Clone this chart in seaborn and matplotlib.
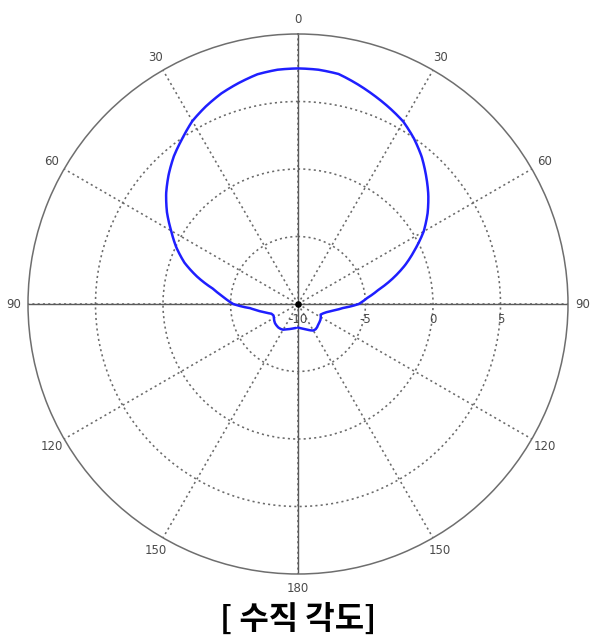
import numpy as np
import pandas as pd
import matplotlib
matplotlib.use("Agg")
import matplotlib.pyplot as plt
import matplotlib.transforms as mtransforms
import seaborn as sns

# ---- data (angle in degrees from top, clockwise positive; gain in dB) ----
angles_right = [0, 5, 10, 15, 20, 25, 30, 35, 40, 45, 50, 55, 60, 65, 70, 75, 80,
                85, 90, 95, 100, 105, 110, 115, 120, 125, 130, 135, 140, 145, 150,
                155, 160, 165, 170, 175, 180]
gain_right = [7.45, 7.42, 7.3, 6.88, 6.45, 6.03, 5.6, 4.97, 4.25, 3.42, 2.6, 1.72,
              0.75, -0.43, -1.55, -2.75, -3.95, -4.85, -5.5, -6.65, -7.3, -7.75,
              -8.0, -8.15, -8.05, -7.97, -7.92, -7.88, -7.78, -7.72, -7.73, -7.85,
              -7.98, -8.08, -8.15, -8.22, -8.25]
angles_left = [-175, -170, -165, -160, -155, -150, -145, -140, -135, -130, -125,
               -120, -115, -110, -105, -100, -95, -90, -85, -80, -75, -70, -65,
               -60, -55, -50, -45, -40, -35, -30, -25, -20, -15, -10, -5]
gain_left = [-8.22, -8.17, -8.1, -8.02, -7.92, -7.8, -7.75, -7.73, -7.75, -7.78,
             -7.85, -7.95, -8.0, -7.9, -7.55, -7.05, -6.45, -5.2, -4.5, -3.65,
             -2.3, -1.05, -0.05, 0.85, 1.85, 2.75, 3.55, 4.3, 4.95, 5.65, 6.15,
             6.6, 6.95, 7.28, 7.42]

theta_ticks = [0, 30, 60, 90, 120, 150, 180, 210, 240, 270, 300, 330]
theta_labels = ["0", "30", "60", "90", "120", "150", "180", "150", "120", "90", "60", "30"]
r_ticks = [-5, 0, 5]
r_labels = ["-10", "-5", "0", "5"]
r_label_vals = [-10, -5, 0, 5]
r_min, r_max = -10, 10
title = "[ 수직 각도]"

sns.set_style("white")
plt.rcParams["font.family"] = ["DejaVu Sans", "Noto Sans CJK KR"]

df = pd.DataFrame({"theta": np.deg2rad(angles_left + angles_right),
                   "gain": gain_left + gain_right})

fig = plt.figure(figsize=(5.90, 6.41), dpi=100)
ax = fig.add_axes([28 / 590, 1 - 574 / 641, 540 / 590, 540 / 641], projection="polar")
ax.set_theta_zero_location("N")
ax.set_theta_direction(-1)
ax.set_ylim(r_min, r_max)

grid_color = "#6a6a6a"
ax.set_thetagrids(theta_ticks, theta_labels)
ax.set_yticks(r_ticks)
ax.set_yticklabels([])
ax.grid(True, color=grid_color, linestyle=(0, (1.3, 2.0)), linewidth=1.15)
ax.tick_params(axis="x", pad=0, labelsize=8.5, colors="#4a4a4a")
ax.spines["polar"].set_color("#6e6e6e")
ax.spines["polar"].set_linewidth(1.1)

# solid main axes at 0/90/180/270
for t in [0, 90, 180, 270]:
    ax.plot([np.deg2rad(t)] * 2, [r_min, r_max], color="#5a5a5a", lw=1.0, zorder=2)

sns.lineplot(data=df, x="theta", y="gain", ax=ax, color="#1f1fff", lw=1.8,
             sort=False, estimator=None, zorder=5)
curve = ax.lines[-1]
curve.recache()
curve.get_path()._interpolation_steps = 20
ax.set_xlabel("")
ax.set_ylabel("")

# centre dot
ax.scatter([0], [r_min], s=14, color="black", zorder=6)

# radial labels along 90 deg, below the axis line
off = mtransforms.offset_copy(ax.transData, fig=fig, x=0, y=-9, units="dots")
for v, lab in zip(r_label_vals, r_labels):
    ax.text(np.deg2rad(90), v, lab, transform=off, ha="center", va="top",
            fontsize=8.5, color="#4a4a4a")

fig.text(0.505, 0.033, title, ha="center", va="center", fontsize=23,
         fontweight="bold", family=["Noto Sans CJK KR", "DejaVu Sans"], color="black")

fig.savefig("out.png", dpi=100)
